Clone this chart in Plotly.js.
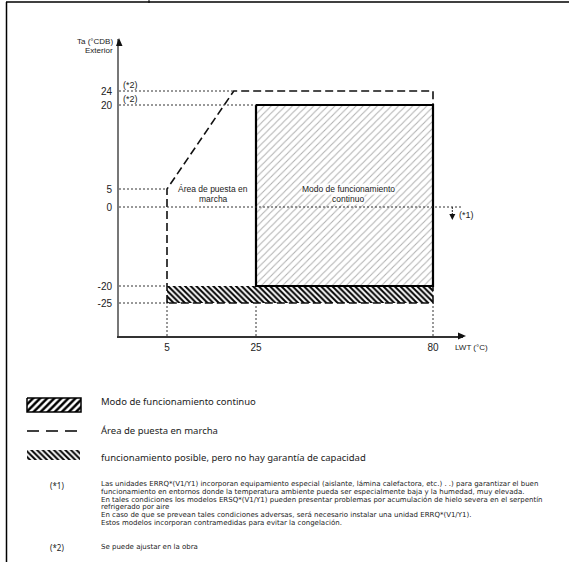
<!DOCTYPE html>
<html>
<head>
<meta charset="utf-8">
<script src="https://cdn.plot.ly/plotly-3.0.1.min.js"></script>
<style>html,body{margin:0;padding:0;background:#fff;}#chart{width:569px;height:562px;}</style>
</head>
<body>
<div id="chart"></div>
<script>
// ---------------- DATA ----------------
const xTickValues = [5, 25, 80];              // LWT (°C)
const yTickValues = [24, 20, 5, 0, -20, -25]; // Ta (°CDB)
// Continuous operation region
const continuousX = [25, 80, 80, 25, 25];
const continuousY = [20, 20, -20, -20, 20];
// Start-up area (dashed outline)
const startupX = [5, 5, 20, 80, 80, 5];
const startupY = [-25, 5, 24, 24, -25, -25];
// Operation possible, capacity not guaranteed
const noGuaranteeX = [5, 80, 80, 5, 5];
const noGuaranteeY = [-25, -25, -20, -20, -25];
// Dotted reference lines: y value and x where they stop
const refLineY = [24, 20, 5, 0, -20, -25];
const refLineXEnd = [20, 25, 5, 91, 5, 5];
const refVertX = [5, 25, 80];
const note1X = 86;       // (*1) marker
const note1YTip = -3.3;

const legendLabels = ["Modo de funcionamiento continuo", "Área de puesta en marcha",
  "funcionamiento posible, pero no hay garantía de capacidad"];
const note1Lines = [
  "Las unidades ERRQ*(V1/Y1) incorporan equipamiento especial (aislante, lámina calefactora, etc.) . .) para garantizar el buen",
  "funcionamiento en entornos donde la temperatura ambiente pueda ser especialmente baja y la humedad, muy elevada.",
  "En tales condiciones los modelos ERSQ*(V1/Y1) pueden presentar problemas por acumulación de hielo severa en el serpentín",
  "refrigerado por aire",
  "En caso de que se prevean tales condiciones adversas, será necesario instalar una unidad ERRQ*(V1/Y1).",
  "Estos modelos incorporan contramedidas para evitar la congelación."
];
const note2Text = "Se puede ajustar en la obra";

// ---------------- SCHEMATIC SCALE (not to scale in original) ----------------
const xKnotVals = [0, 5, 25, 80];
const xKnotPos  = [0, 48, 137, 314];
const yKnotVals = [-25, -20, 0, 5, 20, 24];
const yKnotPos  = [33, 50, 129, 147, 231, 245];
function interp(v, vals, pos) {
  let i = 0;
  while (i < vals.length - 2 && v > vals[i + 1]) i++;
  const t = (v - vals[i]) / (vals[i + 1] - vals[i]);
  return pos[i] + t * (pos[i + 1] - pos[i]);
}
const mx = v => interp(v, xKnotVals, xKnotPos);
const my = v => interp(v, yKnotVals, yKnotPos);

// ---------------- LAYOUT HELPERS ----------------
const W = 569, H = 562;
const PX = x => x / W;
const PY = y => 1 - y / H;
const chartFont = "Liberation Sans, Arial, sans-serif";
const textFont = "Noto Sans, Open Sans, sans-serif";
const noteFont = "DejaVu Sans, sans-serif";

const traces = [];
traces.push({
  x: noGuaranteeX.map(mx), y: noGuaranteeY.map(my), type: 'scatter', mode: 'lines',
  fill: 'toself', fillcolor: 'rgba(0,0,0,0)',
  fillpattern: {shape: '\\', fgcolor: '#000', bgcolor: '#fff', size: 4, solidity: 0.5},
  line: {width: 0}, hoverinfo: 'skip', showlegend: false
});
traces.push({
  x: continuousX.map(mx), y: continuousY.map(my), type: 'scatter', mode: 'lines',
  fill: 'toself',
  fillpattern: {shape: '/', fgcolor: '#b0b0b0', bgcolor: '#fff', size: 5, solidity: 0.2},
  line: {width: 0}, hoverinfo: 'skip', showlegend: false
});
traces.push({
  x: startupX.map(mx), y: startupY.map(my), type: 'scatter', mode: 'lines',
  line: {color: '#111', width: 1.6, dash: '8px,4px'}, hoverinfo: 'skip', showlegend: false
});
traces.push({
  x: continuousX.map(mx), y: continuousY.map(my), type: 'scatter', mode: 'lines',
  line: {color: '#000', width: 2.2}, hoverinfo: 'skip', showlegend: false
});

// Legend swatches drawn on a full-page helper axis (units = page pixels)
const sw1 = {x0: 27, x1: 81, y0: 398, y1: 412};
const sw2 = {x0: 27, x1: 80, y: 431};
const sw3 = {x0: 27, x1: 80, y0: 450, y1: 460};
traces.push({
  x: [sw1.x0, sw1.x1, sw1.x1, sw1.x0, sw1.x0], y: [sw1.y0, sw1.y0, sw1.y1, sw1.y1, sw1.y0],
  xaxis: 'x2', yaxis: 'y2', type: 'scatter', mode: 'lines', fill: 'toself',
  fillpattern: {shape: '/', fgcolor: '#000', bgcolor: '#fff', size: 5, solidity: 0.5},
  line: {color: '#000', width: 1.5}, hoverinfo: 'skip', showlegend: false
});
traces.push({
  x: [sw2.x0, sw2.x1], y: [sw2.y, sw2.y], xaxis: 'x2', yaxis: 'y2', type: 'scatter', mode: 'lines',
  line: {color: '#000', width: 1.6, dash: '12px,7px'}, hoverinfo: 'skip', showlegend: false
});
traces.push({
  x: [sw3.x0, sw3.x1, sw3.x1, sw3.x0, sw3.x0], y: [sw3.y0, sw3.y0, sw3.y1, sw3.y1, sw3.y0],
  xaxis: 'x2', yaxis: 'y2', type: 'scatter', mode: 'lines', fill: 'toself', fillcolor: 'rgba(0,0,0,0)',
  fillpattern: {shape: '\\', fgcolor: '#000', bgcolor: '#fff', size: 4, solidity: 0.5},
  line: {width: 0}, hoverinfo: 'skip', showlegend: false
});

const shapes = [];
const dotted = {color: '#333', width: 1, dash: '2px,2px'};
refLineY.forEach((yv, i) => {
  shapes.push({type: 'line', xref: 'x', yref: 'y', x0: 0, x1: mx(refLineXEnd[i]), y0: my(yv), y1: my(yv), line: dotted});
});
refVertX.forEach(xv => {
  shapes.push({type: 'line', xref: 'x', yref: 'y', x0: mx(xv), x1: mx(xv), y0: 0, y1: my(-25), line: dotted});
});
// (*1) shaft
shapes.push({type: 'line', xref: 'x', yref: 'y', x0: mx(note1X), x1: mx(note1X), y0: my(0), y1: my(note1YTip) + 4, line: {color: '#222', width: 1, dash: '2px,1px'}});
shapes.push({type: 'path', xref: 'x', yref: 'y',
  path: `M ${mx(note1X)} ${my(note1YTip)} L ${mx(note1X) - 3} ${my(note1YTip) + 6} L ${mx(note1X) + 3} ${my(note1YTip) + 6} Z`,
  fillcolor: '#111', line: {width: 0}});
// axis arrowheads
shapes.push({type: 'path', xref: 'paper', yref: 'paper',
  path: `M ${PX(119)} ${PY(38)} L ${PX(116)} ${PY(46)} L ${PX(122.5)} ${PY(46)} Z`, fillcolor: '#111', line: {width: 0}});
shapes.push({type: 'path', xref: 'paper', yref: 'paper',
  path: `M ${PX(466)} ${PY(336)} L ${PX(458)} ${PY(332.5)} L ${PX(458)} ${PY(339.5)} Z`, fillcolor: '#111', line: {width: 0}});
// page frame
shapes.push({type: 'line', xref: 'paper', yref: 'paper', x0: PX(6), x1: PX(569), y0: PY(2), y1: PY(2), line: {color: '#000', width: 1.5}});
shapes.push({type: 'line', xref: 'paper', yref: 'paper', x0: PX(6.5), x1: PX(6.5), y0: PY(2), y1: PY(562), line: {color: '#000', width: 1.5}});
shapes.push({type: 'line', xref: 'paper', yref: 'paper', x0: PX(149), x1: PX(149), y0: PY(0), y1: PY(3), line: {color: '#000', width: 1}});

const ann = [];
function addText(text, x, y, size, xanchor, font, bg) {
  const a = {text: text, xref: 'paper', yref: 'paper', x: PX(x), y: PY(y), xanchor: xanchor || 'left', yanchor: 'middle',
    showarrow: false, borderpad: 0, font: {family: font || chartFont, size: size, color: '#222'}};
  if (bg) a.bgcolor = bg;
  ann.push(a);
}
addText("Ta (°CDB)", 113.5, 42, 8, 'right');
addText("Exterior", 113.5, 50, 8, 'right');
addText("(*2)", 122, 85, 9, 'left');
addText("(*2)", 122, 99, 9, 'left');
addText("Área de puesta en", 213, 189, 8.5, 'center');
addText("marcha", 213, 198.5, 8.5, 'center');
addText("Modo de funcionamiento", 348, 189, 8.5, 'center', chartFont, 'rgba(255,255,255,0.85)');
addText("continuo", 348, 198.5, 8.5, 'center', chartFont, 'rgba(255,255,255,0.85)');
addText("(*1)", 458, 215, 9, 'left');
addText("LWT (°C)", 471, 347, 8, 'center');

addText(legendLabels[0], 100, 401, 9.5, 'left', textFont);
addText(legendLabels[1], 100, 430, 9.5, 'left', textFont);
addText(legendLabels[2], 100, 457, 9.5, 'left', textFont);
addText("(*1)", 57, 485, 8, 'center', textFont);
note1Lines.forEach((ln, i) => addText(ln, 100, 484 + i * 7.8, 7, 'left', noteFont));
addText("(*2)", 57, 547, 8, 'center', textFont);
addText(note2Text, 100, 547, 7, 'left', noteFont);

const layout = {
  width: W, height: H,
  margin: {l: 0, r: 0, t: 0, b: 0},
  paper_bgcolor: '#fff', plot_bgcolor: 'rgba(0,0,0,0)',
  showlegend: false,
  xaxis: {
    domain: [PX(119), PX(463)], range: [0, 344], anchor: 'y',
    showline: true, linecolor: '#333', linewidth: 1.5,
    showgrid: false, zeroline: false, ticks: '',
    tickvals: xTickValues.map(mx), ticktext: xTickValues.map(String),
    tickfont: {family: chartFont, size: 10, color: '#222'}, ticklabelstandoff: 1
  },
  yaxis: {
    domain: [PY(336), PY(39)], range: [0, 297], anchor: 'x',
    showline: true, linecolor: '#777', linewidth: 2,
    showgrid: false, zeroline: false, ticks: '',
    tickvals: yTickValues.map(my), ticktext: yTickValues.map(String),
    tickfont: {family: chartFont, size: 10, color: '#222'}, ticklabelstandoff: 3
  },
  xaxis2: {domain: [0, 1], range: [0, W], anchor: 'y2', visible: false, fixedrange: true},
  yaxis2: {domain: [0, 1], range: [H, 0], anchor: 'x2', visible: false, fixedrange: true},
  shapes: shapes,
  annotations: ann
};

Plotly.newPlot('chart', traces, layout, {staticPlot: true, displayModeBar: false});
</script>
</body>
</html>
